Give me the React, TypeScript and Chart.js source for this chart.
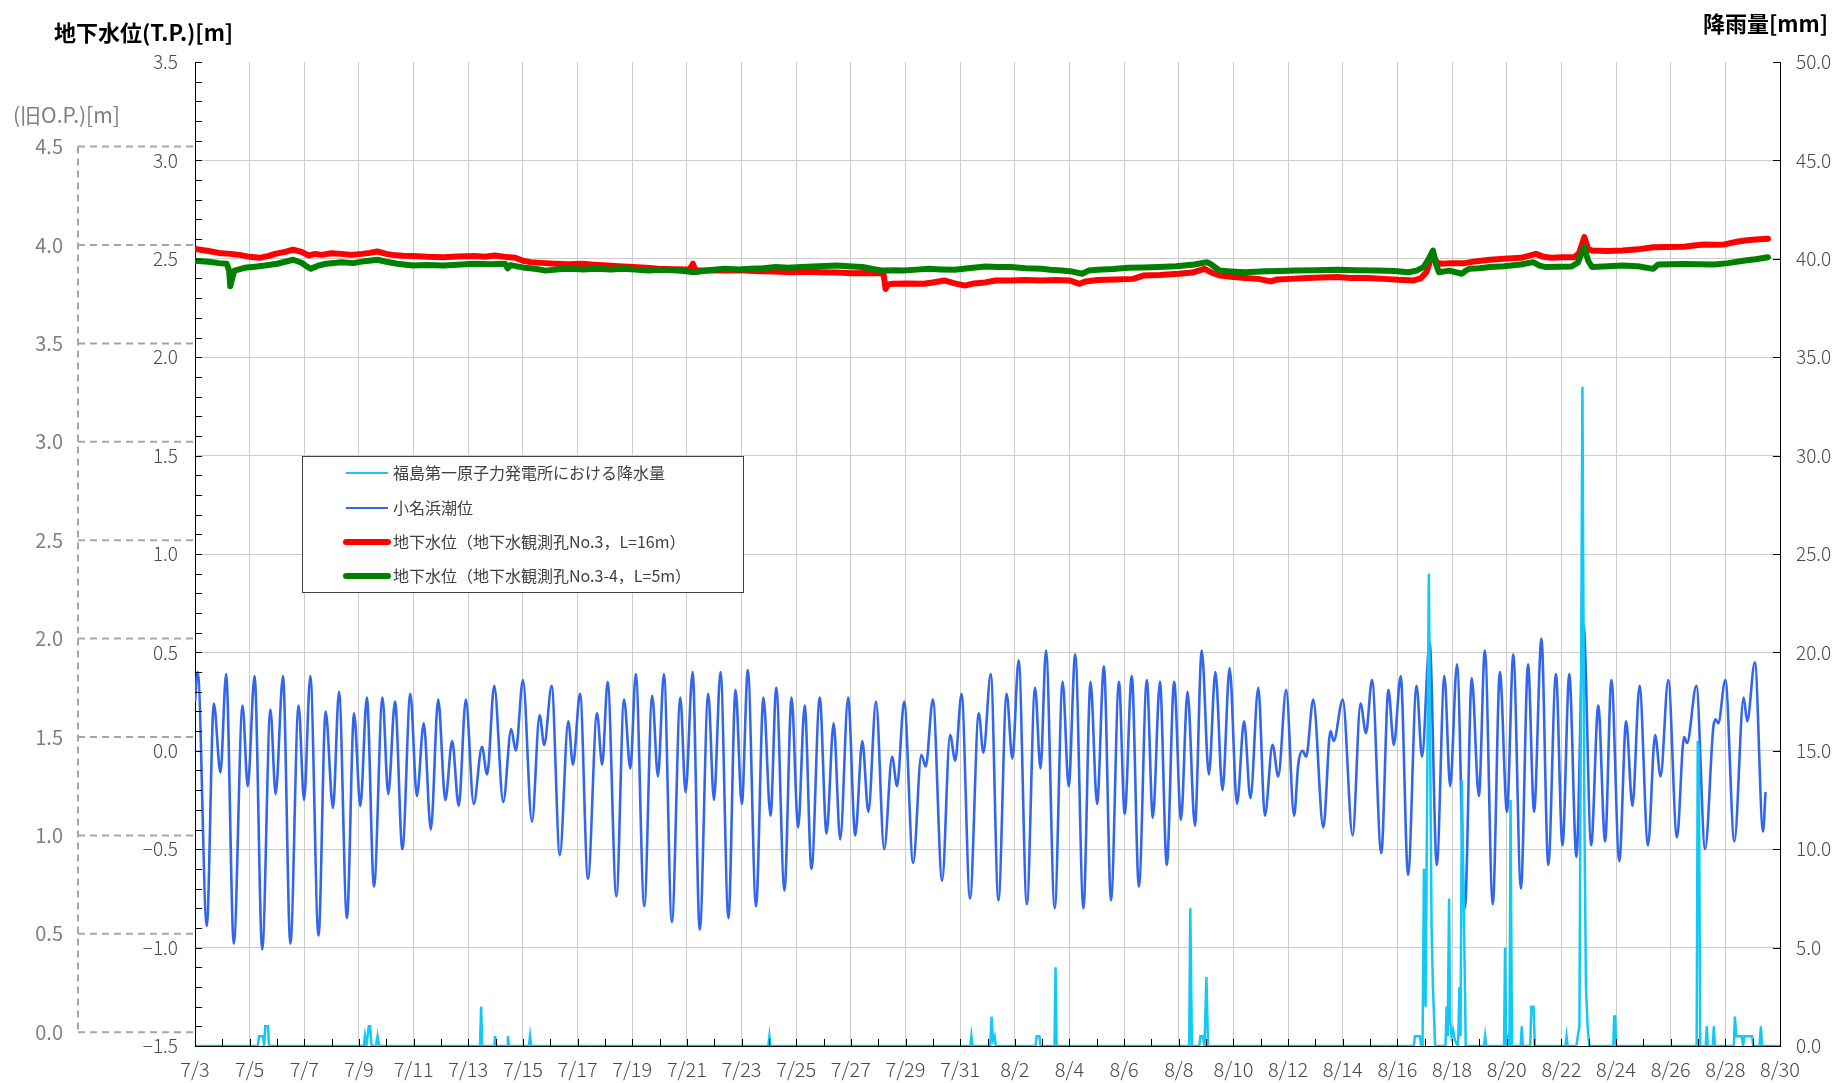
import React, { useEffect, useRef } from "react";
import { Chart, registerables } from "chart.js";

Chart.register(...registerables);

// ---------- data ----------
const xTickLabels = ["7/3","7/5","7/7","7/9","7/11","7/13","7/15","7/17","7/19","7/21","7/23","7/25","7/27","7/29","7/31","8/2","8/4","8/6","8/8","8/10","8/12","8/14","8/16","8/18","8/20","8/22","8/24","8/26","8/28","8/30"];
const opTicks = [0, 0.5, 1.0, 1.5, 2.0, 2.5, 3.0, 3.5, 4.0, 4.5];
const OP_OFFSET = 1.43;

const legendLabels = [
  "福島第一原子力発電所における降水量",
  "小名浜潮位",
  "地下水位（地下水観測孔No.3，L=16m）",
  "地下水位（地下水観測孔No.3-4，L=5m）",
];

// tide (day offset from 7/3, level T.P. m)
const tideDays = [0.00,0.10,0.43,0.69,0.93,1.14,1.42,1.74,1.93,2.18,2.46,2.76,2.95,3.22,3.49,3.79,3.99,4.22,4.52,4.78,5.05,5.27,5.56,5.82,6.05,6.29,6.55,6.86,7.07,7.32,7.59,7.88,8.12,8.37,8.63,8.90,9.16,9.41,9.65,9.91,10.20,10.50,10.69,10.95,11.28,11.57,11.74,12.00,12.33,12.61,12.78,13.05,13.35,13.66,13.83,14.09,14.38,14.71,14.90,15.10,15.42,15.70,15.93,16.13,16.44,16.73,16.94,17.16,17.45,17.76,17.95,18.21,18.47,18.78,18.99,19.23,19.52,19.78,20.01,20.23,20.53,20.80,21.06,21.27,21.57,21.83,22.07,22.31,22.56,22.86,23.11,23.37,23.61,23.90,24.16,24.42,24.64,24.92,25.22,25.51,25.69,25.95,26.28,26.58,26.74,27.00,27.34,27.63,27.82,28.05,28.36,28.68,28.85,29.12,29.40,29.70,29.91,30.14,30.44,30.74,30.94,31.14,31.46,31.75,31.97,32.21,32.51,32.77,33.01,33.26,33.52,33.81,34.02,34.28,34.54,34.83,35.05,35.31,35.56,35.83,36.08,36.32,36.59,36.84,37.10,37.34,37.60,37.86,38.13,38.39,38.62,38.91,39.15,39.43,39.64,39.93,40.22,40.37,40.53,40.66,40.92,41.29,41.55,41.67,42.00,42.36,42.65,42.85,43.07,43.41,43.67,43.87,44.12,44.39,44.70,44.90,45.18,45.44,45.72,45.93,46.18,46.47,46.72,46.98,47.20,47.49,47.75,48.01,48.24,48.52,48.78,49.00,49.27,49.52,49.80,50.04,50.29,50.55,50.81,51.09,51.35,51.60,51.83,52.12,52.37,52.60,52.86,53.17,53.43,53.63,53.91,54.23,54.49,54.60,54.94,55.26,55.56,55.65,55.74,56.00,56.33,56.67,56.80,57.08,57.38,57.47];
const tideLevels = [0.25,0.40,-0.89,0.24,-0.11,0.39,-0.98,0.23,-0.18,0.38,-1.01,0.21,-0.22,0.38,-0.98,0.23,-0.25,0.38,-0.94,0.20,-0.29,0.30,-0.85,0.19,-0.28,0.27,-0.69,0.27,-0.22,0.25,-0.50,0.29,-0.23,0.14,-0.40,0.26,-0.25,0.05,-0.28,0.26,-0.27,0.02,-0.12,0.33,-0.26,0.11,0.00,0.36,-0.36,0.18,0.03,0.33,-0.53,0.15,-0.07,0.29,-0.65,0.19,-0.07,0.35,-0.74,0.26,-0.09,0.39,-0.79,0.28,-0.13,0.39,-0.87,0.27,-0.21,0.40,-0.91,0.29,-0.25,0.40,-0.85,0.31,-0.27,0.41,-0.79,0.27,-0.33,0.32,-0.71,0.27,-0.39,0.23,-0.60,0.27,-0.42,0.14,-0.45,0.27,-0.43,0.05,-0.31,0.25,-0.50,-0.03,-0.18,0.25,-0.57,-0.02,-0.08,0.26,-0.66,0.08,-0.05,0.29,-0.75,0.19,-0.01,0.39,-0.76,0.29,-0.04,0.46,-0.78,0.32,-0.09,0.51,-0.80,0.35,-0.18,0.49,-0.80,0.35,-0.27,0.43,-0.76,0.35,-0.32,0.38,-0.69,0.36,-0.34,0.35,-0.58,0.35,-0.35,0.30,-0.38,0.51,-0.12,0.40,-0.20,0.42,-0.27,0.15,-0.24,0.32,-0.33,0.03,-0.13,0.31,-0.33,-0.07,0.00,-0.03,0.26,-0.39,0.10,0.05,0.26,-0.43,0.24,0.09,0.36,-0.52,0.31,0.03,0.38,-0.63,0.33,-0.03,0.55,-0.58,0.38,-0.18,0.44,-0.80,0.37,-0.23,0.51,-0.78,0.40,-0.31,0.49,-0.70,0.44,-0.31,0.57,-0.58,0.39,-0.48,0.39,-0.54,0.64,-0.48,0.23,-0.46,0.36,-0.56,0.15,-0.28,0.33,-0.48,0.08,-0.13,0.36,-0.44,0.07,0.04,0.33,-0.50,0.12,0.16,0.14,0.36,-0.46,0.27,0.15,0.45,-0.41,-0.21];

// groundwater No.3 (red)
const no3Days = [0,0.5,0.88,1.3,1.63,2.0,2.37,2.7,2.93,3.3,3.59,3.9,4.15,4.4,4.62,5.0,5.36,5.7,6.11,6.4,6.67,7.0,7.23,7.6,7.98,8.5,9.1,9.6,10.22,10.6,10.97,11.3,11.72,12.0,12.28,12.8,13.21,13.7,14.15,14.6,15.08,15.5,16.02,16.5,16.95,17.5,18.1,18.22,18.3,18.45,19.0,19.57,20.1,20.69,21.2,21.81,22.4,22.93,23.5,24.06,24.6,25.08,25.2,25.27,25.35,25.55,26.1,26.67,27.0,27.42,27.8,28.17,28.5,28.92,29.3,29.85,30.4,30.97,31.5,32.0,32.37,32.6,33.02,33.7,34.33,34.7,35.3,36.0,36.5,36.94,37.2,37.5,38.0,38.43,38.9,39.37,39.6,40.1,40.67,41.2,41.79,42.3,42.91,43.5,44.03,44.59,44.85,45.06,45.2,45.34,45.45,45.62,46.0,46.46,46.9,47.39,47.9,48.51,48.8,49.07,49.35,49.63,50.0,50.47,50.65,50.84,50.98,51.12,51.7,52.24,52.8,53.36,53.9,54.48,54.85,55.22,55.6,55.97,56.35,56.72,57.1,57.56];
const no3Levels = [2.55,2.54,2.53,2.525,2.52,2.51,2.505,2.515,2.525,2.535,2.546,2.535,2.517,2.525,2.52,2.528,2.525,2.52,2.525,2.53,2.537,2.525,2.52,2.515,2.514,2.51,2.508,2.512,2.514,2.51,2.517,2.51,2.505,2.49,2.483,2.478,2.475,2.472,2.475,2.47,2.466,2.462,2.458,2.455,2.449,2.447,2.445,2.475,2.445,2.44,2.442,2.44,2.44,2.437,2.436,2.432,2.434,2.432,2.43,2.427,2.428,2.427,2.42,2.347,2.37,2.373,2.375,2.373,2.38,2.39,2.375,2.364,2.375,2.38,2.39,2.39,2.392,2.39,2.392,2.39,2.373,2.385,2.392,2.395,2.398,2.415,2.418,2.424,2.43,2.449,2.43,2.415,2.408,2.403,2.398,2.385,2.395,2.398,2.403,2.405,2.407,2.403,2.403,2.398,2.393,2.39,2.4,2.432,2.49,2.508,2.48,2.475,2.478,2.478,2.488,2.495,2.5,2.505,2.515,2.525,2.51,2.505,2.508,2.508,2.53,2.61,2.55,2.542,2.54,2.542,2.548,2.559,2.56,2.561,2.568,2.573,2.572,2.573,2.585,2.593,2.598,2.602];

// groundwater No.3-4 (green)
const no34Days = [0,0.5,0.88,1.16,1.25,1.29,1.36,1.44,1.81,2.2,2.56,3.0,3.3,3.59,3.9,4.1,4.24,4.5,4.8,5.36,5.8,6.2,6.67,7.0,7.4,7.98,8.5,9.1,9.6,10.22,10.8,11.35,11.44,11.55,12.09,12.5,12.84,13.3,13.78,14.2,14.71,15.2,15.64,16.1,16.58,17.0,17.51,17.9,18.26,18.8,19.38,19.9,20.32,20.8,21.25,21.7,22.19,22.8,23.5,23.9,24.43,24.8,25.18,25.6,25.93,26.4,26.86,27.3,27.79,28.3,28.92,29.4,29.85,30.4,30.97,31.3,31.72,32.1,32.46,32.7,33.02,33.6,34.14,34.7,35.26,35.9,36.57,37.03,37.2,37.5,37.9,38.43,38.8,39.18,39.7,40.3,41.0,41.79,42.5,43.28,43.9,44.4,44.7,44.96,45.15,45.3,45.42,45.52,45.9,46.36,46.5,46.64,47.0,47.39,47.9,48.51,48.97,49.2,49.44,49.9,50.37,50.6,50.84,50.98,51.12,51.7,52.24,52.8,53.36,53.54,54.0,54.48,55.0,55.6,56.1,56.72,57.1,57.56];
const no34Levels = [2.49,2.485,2.478,2.475,2.44,2.36,2.40,2.44,2.454,2.46,2.466,2.475,2.485,2.495,2.48,2.46,2.449,2.465,2.475,2.483,2.478,2.488,2.495,2.485,2.475,2.466,2.468,2.466,2.47,2.475,2.472,2.475,2.452,2.468,2.454,2.448,2.44,2.447,2.449,2.446,2.449,2.445,2.449,2.445,2.44,2.444,2.442,2.438,2.432,2.442,2.449,2.446,2.449,2.452,2.458,2.455,2.458,2.462,2.466,2.462,2.458,2.448,2.44,2.442,2.44,2.445,2.449,2.446,2.444,2.452,2.461,2.458,2.458,2.452,2.449,2.444,2.44,2.435,2.424,2.44,2.444,2.448,2.454,2.456,2.458,2.462,2.471,2.483,2.47,2.44,2.436,2.432,2.434,2.437,2.438,2.44,2.442,2.444,2.442,2.44,2.438,2.432,2.44,2.458,2.50,2.542,2.47,2.432,2.44,2.424,2.44,2.449,2.452,2.458,2.462,2.471,2.483,2.465,2.458,2.46,2.461,2.48,2.559,2.49,2.458,2.462,2.466,2.462,2.449,2.471,2.472,2.474,2.472,2.471,2.478,2.491,2.498,2.508];

// rainfall (mm)
const rainDays = [0,2.30,2.34,2.49,2.53,2.57,2.67,2.71,6.18,6.22,6.27,6.36,6.41,6.46,6.62,6.68,6.74,10.43,10.47,10.51,10.95,10.98,11.02,11.42,11.45,11.49,12.22,12.26,12.30,20.98,21.02,21.06,28.37,28.41,28.45,29.10,29.15,29.20,29.26,29.30,30.76,30.80,30.90,30.94,31.45,31.49,31.53,36.38,36.42,36.48,36.75,36.79,36.88,36.94,37.01,37.07,44.60,44.64,44.82,44.87,44.92,44.97,45.03,45.15,45.25,45.30,45.38,45.76,45.80,45.84,45.89,45.93,45.98,46.04,46.10,46.22,46.27,46.31,46.36,46.43,46.50,47.17,47.21,47.25,47.90,47.94,47.98,48.07,48.10,48.14,48.19,48.51,48.55,48.59,48.86,48.90,48.98,49.03,50.15,50.19,50.23,50.55,50.60,50.66,50.77,50.84,50.90,50.96,51.02,51.90,51.93,51.97,52.00,54.95,54.99,55.03,55.08,55.28,55.32,55.36,55.54,55.58,55.62,56.31,56.35,56.40,56.60,56.65,56.70,56.98,57.02,57.25,57.30,57.34,58];
const rainMm = [0,0,0.5,0.5,0,1.0,1.0,0,0,0.5,0,1.0,1.0,0,0,0.5,0,0,2.0,0,0,0.5,0,0,0.5,0,0,0.5,0,0,0.5,0,0,0.5,0,0,1.5,0.3,0.5,0,0,0.5,0.5,0,0,4.0,0,0,7.0,0,0,0.5,0.5,0,3.5,0,0,0.5,0.5,0,0,9.0,2.0,24.0,6.0,3.0,0,0,2.0,0.5,7.5,1.3,0.5,0.8,0.3,0,3.0,0.5,13.5,7.0,0,0,0.5,0,0,5.0,0,0.5,0,12.5,0,0,1.0,0,0,2.0,2.0,0,0,0.5,0,0,0.5,1.0,33.5,12.0,3.0,1.0,0,0,1.5,1.5,0,0,15.5,15.0,0,0,1.0,0,0,1.0,0,0,1.5,0.5,0.5,0,0.5,0.5,0,0,1.0,0,0];

// ---------- styles ----------
const FONT = "'Noto Sans CJK JP', 'Noto Sans', sans-serif";
const C_RAIN = "#12c8f4";
const C_TIDE = "#3366ee";
const C_NO3 = "#ff0000";
const C_NO34 = "#008000";
const C_TICK = "#4a4a4a";

const toXY = (xs: number[], ys: number[]) => xs.map((x, i) => ({ x, y: ys[i] }));
const fmt = (v: number) => v.toFixed(1).replace("-", "\u2212");

const decorPlugin = {
  id: "decor",
  afterDraw(chart: any) {
    const ctx = chart.ctx;
    const area = chart.chartArea;
    const y = chart.scales.y;
    const y2 = chart.scales.y2;
    const x = chart.scales.x;
    ctx.save();
    // minor ticks (inside)
    ctx.strokeStyle = "#000";
    ctx.lineWidth = 1;
    ctx.beginPath();
    for (let i = 0; i <= 50; i++) {
      const v = -1.5 + i * 0.1;
      const py = Math.round(y.getPixelForValue(v)) + 0.5;
      ctx.moveTo(area.left, py);
      ctx.lineTo(area.left + 7, py);
    }
    for (let v = 0; v <= 50; v += 5) {
      const py = Math.round(y2.getPixelForValue(v)) + 0.5;
      ctx.moveTo(area.right - 7, py);
      ctx.lineTo(area.right, py);
    }
    for (let d = 0; d <= 58; d++) {
      const px = Math.round(x.getPixelForValue(d)) + 0.5;
      ctx.moveTo(px, area.bottom);
      ctx.lineTo(px, area.bottom - 7);
    }
    ctx.stroke();

    // 旧O.P. axis
    ctx.strokeStyle = "#a6a6a6";
    ctx.lineWidth = 2;
    ctx.setLineDash([7, 5]);
    const vx = 78;
    const yTop = y.getPixelForValue(opTicks[opTicks.length - 1] - OP_OFFSET);
    const yBot = y.getPixelForValue(opTicks[0] - OP_OFFSET);
    ctx.beginPath();
    ctx.moveTo(vx, yTop);
    ctx.lineTo(vx, yBot);
    opTicks.forEach((op) => {
      const py = y.getPixelForValue(op - OP_OFFSET);
      ctx.moveTo(vx, py);
      ctx.lineTo(area.left, py);
    });
    ctx.stroke();
    ctx.setLineDash([]);
    ctx.fillStyle = "#808080";
    ctx.font = `20px ${FONT}`;
    ctx.textAlign = "right";
    ctx.textBaseline = "middle";
    opTicks.forEach((op) => {
      const py = y.getPixelForValue(op - OP_OFFSET);
      ctx.fillText(fmt(op), 63, py);
    });
    ctx.textAlign = "left";
    ctx.font = `21px ${FONT}`;
    ctx.fillText("(旧O.P.)[m]", 13, 115);

    // axis titles
    ctx.fillStyle = "#000";
    ctx.font = `bold 22px ${FONT}`;
    ctx.textAlign = "left";
    ctx.fillText("地下水位(T.P.)[m]", 54, 33);
    ctx.textAlign = "right";
    ctx.fillText("降雨量[mm]", 1828, 24);

    // legend
    const lx = 302.5, ly = 456.5, lw = 441, lh = 136;
    ctx.fillStyle = "#fff";
    ctx.fillRect(lx, ly, lw, lh);
    ctx.strokeStyle = "#404040";
    ctx.lineWidth = 1;
    ctx.strokeRect(lx, ly, lw, lh);
    const rows = [473, 508, 542, 576];
    const cols = [C_RAIN, C_TIDE, C_NO3, C_NO34];
    const widths = [2, 2, 6, 6];
    ctx.font = `16px ${FONT}`;
    ctx.textAlign = "left";
    ctx.textBaseline = "middle";
    rows.forEach((ry, i) => {
      ctx.strokeStyle = cols[i];
      ctx.lineWidth = widths[i];
      ctx.lineCap = widths[i] > 3 ? "round" : "butt";
      ctx.beginPath();
      ctx.moveTo(346, ry);
      ctx.lineTo(388, ry);
      ctx.stroke();
      ctx.fillStyle = "#404040";
      ctx.fillText(legendLabels[i], 393, ry);
    });
    ctx.restore();
  },
};

export default function App() {
  const ref = useRef<HTMLCanvasElement | null>(null);
  useEffect(() => {
    if (!ref.current) return;
    const chart = new Chart(ref.current, {
      type: "line",
      data: {
        datasets: [
          {
            label: legendLabels[0],
            data: toXY(rainDays, rainMm),
            yAxisID: "y2",
            borderColor: C_RAIN,
            borderWidth: 2.5,
            pointRadius: 0,
            tension: 0,
            order: 0,
          },
          {
            label: legendLabels[1],
            data: toXY(tideDays, tideLevels),
            yAxisID: "y",
            borderColor: C_TIDE,
            borderWidth: 2.6,
            pointRadius: 0,
            cubicInterpolationMode: "monotone",
            order: 3,
          },
          {
            label: legendLabels[2],
            data: toXY(no3Days, no3Levels),
            yAxisID: "y",
            borderColor: C_NO3,
            borderWidth: 6,
            pointRadius: 0,
            tension: 0,
            borderJoinStyle: "round",
            borderCapStyle: "round",
            order: 2,
          },
          {
            label: legendLabels[3],
            data: toXY(no34Days, no34Levels),
            yAxisID: "y",
            borderColor: C_NO34,
            borderWidth: 6,
            pointRadius: 0,
            tension: 0,
            borderJoinStyle: "round",
            borderCapStyle: "round",
            order: 1,
          },
        ],
      },
      options: {
        responsive: false,
        animation: false,
        devicePixelRatio: 1,
        layout: { padding: { top: 62, left: 0, right: 0, bottom: 0 } },
        plugins: { legend: { display: false }, tooltip: { enabled: false } },
        scales: {
          x: {
            type: "linear",
            position: "bottom",
            min: 0,
            max: 58,
            afterFit: (s: any) => { s.height = 37; },
            ticks: {
              stepSize: 2,
              autoSkip: false,
              maxRotation: 0,
              padding: 11,
              color: C_TICK,
              font: { family: FONT, size: 20, weight: "300" },
              callback: (v: any) => xTickLabels[Math.round(Number(v) / 2)] ?? "",
            },
            grid: { color: "#cccccc", lineWidth: 1, drawTicks: false },
            border: { color: "#000", width: 1 },
          },
          y: {
            type: "linear",
            position: "left",
            min: -1.5,
            max: 3.5,
            afterFit: (s: any) => { s.width = 195; },
            ticks: {
              stepSize: 0.5,
              padding: 17,
              color: C_TICK,
              font: { family: FONT, size: 19, weight: "300" },
              callback: (v: any) => fmt(Number(v)),
            },
            grid: {
              drawTicks: false,
              lineWidth: 1,
              color: (c: any) => (c.tick && c.tick.value >= 3.49 ? "rgba(0,0,0,0)" : "#cccccc"),
            },
            border: { color: "#000", width: 1 },
          },
          y2: {
            type: "linear",
            position: "right",
            min: 0,
            max: 50,
            afterFit: (s: any) => { s.width = 59; },
            ticks: {
              stepSize: 5,
              padding: 16,
              color: C_TICK,
              font: { family: FONT, size: 19, weight: "300" },
              callback: (v: any) => fmt(Number(v)),
            },
            grid: { drawOnChartArea: false, drawTicks: false },
            border: { color: "#000", width: 1 },
          },
        },
      },
      plugins: [decorPlugin],
    } as any);
    return () => chart.destroy();
  }, []);
  return (
    <div style={{ position: "fixed", left: 0, top: 0, width: 1839, height: 1083, background: "#fff" }}>
      <canvas ref={ref} width={1839} height={1083} style={{ width: 1839, height: 1083 }} />
    </div>
  );
}
